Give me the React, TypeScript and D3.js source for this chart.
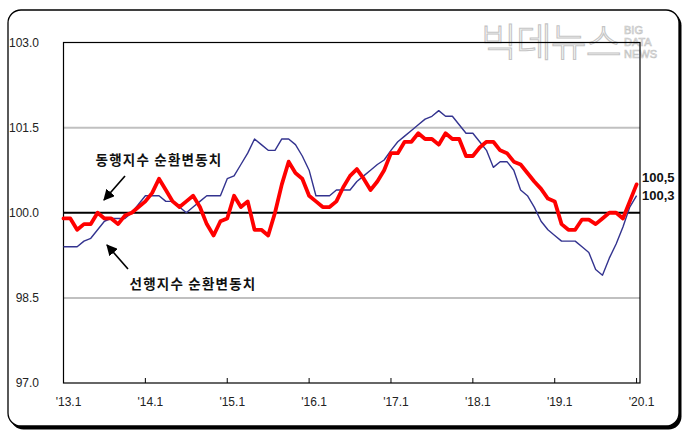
import React from "react";
import * as d3 from "d3";

const months: string[] = Array.from({ length: 85 }, (_, i) => `${2013 + Math.floor(i / 12)}.${(i % 12) + 1}`);

const coincident: number[] = [
  99.9, 99.9, 99.7, 99.8, 99.8, 100.0, 99.9, 99.9, 99.8, 99.95, 100.0, 100.1,
  100.2, 100.35, 100.6, 100.4, 100.2, 100.1, 100.2, 100.3, 100.1, 99.8, 99.6, 99.85,
  99.9, 100.3, 100.1, 100.2, 99.7, 99.7, 99.6, 100.0, 100.5, 100.9, 100.7, 100.6,
  100.3, 100.2, 100.1, 100.1, 100.2, 100.45, 100.65, 100.77, 100.6, 100.4, 100.55, 100.75,
  101.05, 101.05, 101.25, 101.25, 101.4, 101.3, 101.3, 101.2, 101.4, 101.3, 101.3, 101.0,
  101.0, 101.15, 101.25, 101.25, 101.1, 101.05, 100.9, 100.85, 100.7, 100.55, 100.42, 100.25,
  100.2, 99.8, 99.7, 99.7, 99.88, 99.88, 99.8, 99.9, 100.0, 100.0, 99.9, 100.2,
  100.5,
];

const leading: number[] = [
  99.4, 99.4, 99.4, 99.5, 99.55, 99.7, 99.85, 99.9, 99.9, 99.9, 100.0, 100.15,
  100.3, 100.3, 100.3, 100.2, 100.2, 100.1, 100.0, 100.1, 100.2, 100.3, 100.3, 100.3,
  100.6, 100.65, 100.85, 101.05, 101.3, 101.2, 101.1, 101.1, 101.3, 101.3, 101.2, 101.0,
  100.75, 100.3, 100.3, 100.3, 100.4, 100.4, 100.4, 100.55, 100.65, 100.75, 100.85, 100.93,
  101.1, 101.25, 101.35, 101.45, 101.55, 101.65, 101.7, 101.8, 101.7, 101.7, 101.55, 101.4,
  101.4, 101.25, 101.1, 100.8, 100.9, 100.9, 100.75, 100.4, 100.3, 100.1, 99.85, 99.7,
  99.6, 99.5, 99.5, 99.5, 99.4, 99.3, 99.0, 98.9, 99.2, 99.45, 99.75, 100.1,
  100.3,
];

const yTicks: number[] = [97.0, 98.5, 100.0, 101.5, 103.0];
const xTickIdx: number[] = [0, 12, 24, 36, 48, 60, 72, 84];
const xTickLabels: string[] = ["'13.1", "'14.1", "'15.1", "'16.1", "'17.1", "'18.1", "'19.1", "'20.1"];
const seriesNames: string[] = ["동행지수 순환변동치", "선행지수 순환변동치"];
const endLabels: string[] = ["100,5", "100,3"];

export default function App() {
  const W = 687, H = 438;
  const left = 63.5, right = 640, top = 42.5, bottom = 383;
  const x = d3.scaleLinear().domain([0, 84.5]).range([left, right]);
  const y = d3.scaleLinear().domain([97, 103]).range([bottom, top]);
  const line = d3.line<number>().x((_, i) => x(i)).y((d) => y(d));
  const numFont = "'Liberation Sans Narrow', 'Liberation Sans', Arial, sans-serif";
  const korFont = "'Noto Sans CJK KR', sans-serif";

  return (
    <svg width={W} height={H} style={{ position: "absolute", left: 0, top: 0, background: "#fff" }}>
      <defs>
        <marker id="ah" viewBox="0 0 10 10" refX="9" refY="5" markerWidth="7" markerHeight="7" orient="auto-start-reverse">
          <path d="M0,0 L10,5 L0,10 z" fill="#000" />
        </marker>
      </defs>
      {/* frame with shadow */}
      <rect x={10.5} y={12.5} width={671} height={417} rx={13} fill="#000" />
      <rect x={8} y={10} width={671} height={416} rx={13} fill="#fff" stroke="#000" strokeWidth={1.3} />

      {/* watermark */}
      <text x={481} y={56} fontFamily={korFont} fontSize={39} fontWeight={300} fill="#fff" stroke="#c4c4c4" strokeWidth={1.1} letterSpacing={-1}>빅데뉴스</text>
      <g fontFamily={numFont} fontSize={11} fill="#fff" stroke="#c4c4c4" strokeWidth={0.7}>
        <text x={624} y={34}>BIG</text>
        <text x={624} y={46}>DATA</text>
        <text x={624} y={58}>NEWS</text>
      </g>

      {/* gridlines */}
      {yTicks.filter((t) => t !== 100 && t !== 97 && t !== 103).map((t) => (
        <line key={t} x1={left} x2={right} y1={y(t)} y2={y(t)} stroke="#c0c0c0" strokeWidth={2} />
      ))}
      {/* plot border */}
      <rect x={left} y={y(103)} width={right - left} height={y(97) - y(103)} fill="none" stroke="#000" strokeWidth={1.2} />
      <line x1={left} x2={right} y1={y(100)} y2={y(100)} stroke="#000" strokeWidth={2} />

      {/* x ticks */}
      {xTickIdx.map((m, i) => (
        <g key={m}>
          <line x1={x(m)} x2={x(m)} y1={bottom} y2={bottom - 5} stroke="#000" strokeWidth={1} />
          <text x={x(m) + 5} y={406} textAnchor="middle" fontFamily={numFont} fontSize={12} fill="#222">{xTickLabels[i]}</text>
        </g>
      ))}
      {/* y labels */}
      {yTicks.map((t) => (
        <text key={t} x={39} y={y(t) + 4} textAnchor="end" fontFamily={numFont} fontSize={12} fill="#222">{t.toFixed(1)}</text>
      ))}

      {/* lines */}
      <path d={line(leading) || ""} fill="none" stroke="#33338f" strokeWidth={1.4} strokeLinejoin="round" />
      <path d={line(coincident) || ""} fill="none" stroke="#ff0000" strokeWidth={3.8} strokeLinejoin="round" strokeLinecap="round" />

      {/* annotations */}
      <text x={159} y={165} textAnchor="middle" fontFamily={korFont} fontSize={13.5} fontWeight={700} fill="#111" letterSpacing={1.2}>{seriesNames[0]}</text>
      <line x1={125} y1={176} x2={104} y2={200} stroke="#000" strokeWidth={1.6} markerEnd="url(#ah)" />
      <text x={193} y={289} textAnchor="middle" fontFamily={korFont} fontSize={13.5} fontWeight={700} fill="#111" letterSpacing={1.2}>{seriesNames[1]}</text>
      <line x1={128} y1={269} x2={107} y2={245} stroke="#000" strokeWidth={1.6} markerEnd="url(#ah)" />

      {/* end labels */}
      <text x={642} y={182} fontFamily={numFont} fontSize={13} fontWeight={700} fill="#111">{endLabels[0]}</text>
      <text x={642} y={200} fontFamily={numFont} fontSize={13} fontWeight={700} fill="#111">{endLabels[1]}</text>
    </svg>
  );
}
